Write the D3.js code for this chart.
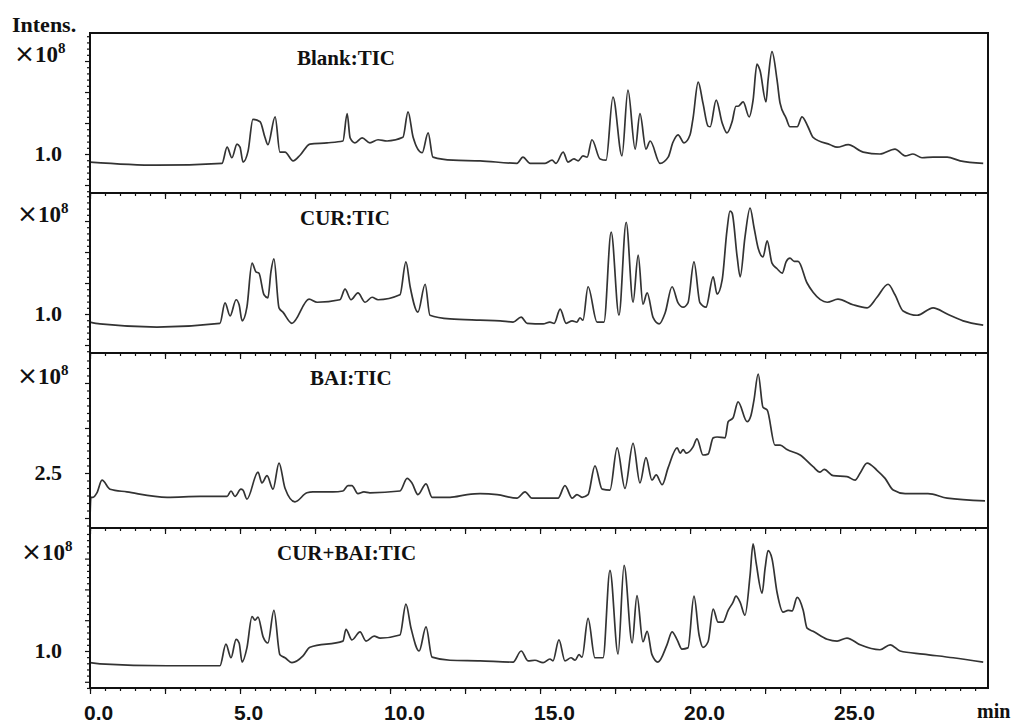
<!DOCTYPE html>
<html><head><meta charset="utf-8">
<script src="https://cdn.jsdelivr.net/npm/d3@7"></script>
<style>body{margin:0;background:#fff}svg{display:block}</style>
</head><body>
<script>
// ---------- data (time in min, intensity in ×10^8) ----------
const blankTIC = [[0,0.87],[2.23,0.82],[4.40,0.85],[4.57,1.11],[4.73,0.94],[4.90,1.16],[5.00,1.11],[5.10,0.87],[5.27,1.05],[5.43,1.56],[5.67,1.52],[5.83,1.27],[5.93,1.15],[6.17,1.60],[6.33,1.03],[6.50,1.03],[6.77,0.89],[7.00,0.98],[7.33,1.16],[7.90,1.18],[8.43,1.21],[8.57,1.65],[8.67,1.26],[8.83,1.18],[9.07,1.26],[9.33,1.18],[9.60,1.23],[9.90,1.21],[10.43,1.27],[10.60,1.68],[10.77,1.27],[11.07,1.02],[11.27,1.34],[11.43,0.95],[12.10,0.90],[13.00,0.89],[14.23,0.85],[14.43,0.95],[14.67,0.85],[15.17,0.85],[15.40,0.90],[15.53,0.85],[15.77,1.03],[15.93,0.87],[16.13,0.92],[16.27,0.89],[16.43,0.97],[16.57,0.95],[16.73,1.23],[17.00,0.92],[17.20,0.90],[17.43,1.92],[17.73,0.97],[17.93,2.03],[18.17,1.08],[18.33,1.65],[18.53,1.08],[18.67,1.21],[19.00,0.85],[19.27,0.95],[19.43,1.19],[19.60,1.31],[19.80,1.18],[20.00,1.31],[20.10,1.58],[20.27,2.16],[20.43,1.82],[20.60,1.45],[20.67,1.44],[20.87,1.87],[21.07,1.50],[21.23,1.34],[21.40,1.52],[21.53,1.77],[21.60,1.77],[21.77,1.84],[21.97,1.60],[22.10,1.87],[22.23,2.45],[22.33,2.35],[22.53,1.84],[22.60,2.19],[22.73,2.65],[22.90,2.19],[23.00,1.82],[23.20,1.58],[23.33,1.44],[23.57,1.44],[23.73,1.60],[23.93,1.44],[24.10,1.27],[24.67,1.15],[24.90,1.11],[25.27,1.15],[25.77,1.03],[26.33,1.00],[26.83,1.08],[27.17,0.97],[27.43,1.00],[27.73,0.94],[28.10,0.95],[28.57,0.95],[29.00,0.89],[29.77,0.85]];

const curTIC = [[0,0.87],[0.33,0.84],[2.23,0.79],[4.33,0.85],[4.50,1.18],[4.67,0.97],[4.87,1.23],[4.97,1.15],[5.07,0.89],[5.23,1.11],[5.40,1.82],[5.53,1.68],[5.63,1.66],[5.80,1.31],[5.93,1.26],[6.03,1.68],[6.13,1.89],[6.30,1.10],[6.43,1.03],[6.73,0.85],[7.30,1.24],[7.57,1.19],[8.33,1.23],[8.50,1.40],[8.70,1.23],[8.93,1.34],[9.17,1.19],[9.40,1.27],[9.60,1.23],[10.33,1.31],[10.53,1.84],[10.67,1.44],[10.93,1.03],[11.17,1.48],[11.33,0.98],[12.00,0.92],[13.00,0.90],[13.67,0.89],[14.10,0.87],[14.37,0.95],[14.57,0.85],[15.10,0.84],[15.33,0.87],[15.47,0.85],[15.67,1.08],[15.87,0.85],[16.07,0.89],[16.23,0.87],[16.33,0.94],[16.43,0.90],[16.60,1.44],[16.90,0.87],[17.13,0.87],[17.37,2.32],[17.63,0.98],[17.87,2.48],[18.10,1.19],[18.27,1.95],[18.43,1.16],[18.57,1.34],[18.77,0.94],[18.97,0.84],[19.17,1.02],[19.40,1.44],[19.60,1.18],[19.77,1.11],[19.93,1.18],[20.13,1.84],[20.33,1.18],[20.53,1.11],[20.77,1.60],[20.90,1.32],[21.07,1.55],[21.23,2.35],[21.33,2.66],[21.40,2.63],[21.57,1.92],[21.67,1.60],[21.83,2.24],[22.00,2.71],[22.13,2.40],[22.27,2.06],[22.43,1.92],[22.57,2.18],[22.73,1.82],[22.90,1.73],[23.07,1.66],[23.20,1.84],[23.33,1.90],[23.47,1.85],[23.60,1.85],[23.90,1.50],[24.10,1.35],[24.57,1.19],[24.93,1.24],[25.43,1.15],[25.90,1.10],[26.23,1.27],[26.60,1.48],[26.83,1.31],[27.10,1.05],[27.57,0.98],[28.10,1.10],[28.57,1.00],[29.10,0.89],[29.77,0.82]];

const baiTIC = [[0,2.00],[0.03,2.23],[0.10,2.23],[0.23,2.28],[0.40,2.42],[0.67,2.32],[1.23,2.29],[2.57,2.23],[3.67,2.24],[4.57,2.24],[4.70,2.30],[4.83,2.24],[5.03,2.32],[5.10,2.31],[5.23,2.21],[5.60,2.51],[5.73,2.39],[5.90,2.47],[6.10,2.32],[6.30,2.61],[6.50,2.33],[6.83,2.18],[7.23,2.28],[7.43,2.29],[8.10,2.29],[8.43,2.30],[8.60,2.36],[8.73,2.36],[8.93,2.27],[9.13,2.29],[9.33,2.28],[10.33,2.30],[10.57,2.44],[10.73,2.39],[10.93,2.26],[11.20,2.38],[11.40,2.23],[12.00,2.23],[12.57,2.26],[13.00,2.27],[13.57,2.26],[14.23,2.22],[14.50,2.29],[14.73,2.22],[15.43,2.22],[15.60,2.22],[15.83,2.36],[16.07,2.22],[16.23,2.26],[16.40,2.23],[16.60,2.26],[16.83,2.58],[17.07,2.32],[17.33,2.31],[17.57,2.78],[17.83,2.33],[18.10,2.83],[18.33,2.39],[18.53,2.67],[18.73,2.42],[18.87,2.48],[19.07,2.37],[19.27,2.56],[19.57,2.78],[19.67,2.72],[19.77,2.76],[19.87,2.72],[20.10,2.79],[20.23,2.88],[20.43,2.70],[20.60,2.71],[20.77,2.89],[20.90,2.90],[21.17,2.89],[21.27,3.07],[21.43,3.11],[21.60,3.29],[21.90,3.07],[22.03,3.14],[22.13,3.31],[22.27,3.60],[22.43,3.23],[22.57,3.20],[22.83,2.81],[23.00,2.81],[23.23,2.76],[23.67,2.70],[24.10,2.57],[24.33,2.51],[24.47,2.54],[24.77,2.47],[25.23,2.46],[25.50,2.42],[25.67,2.50],[25.90,2.61],[26.23,2.53],[26.50,2.44],[26.77,2.31],[27.17,2.27],[27.93,2.27],[28.57,2.22],[29.83,2.19]];

const curBaiTIC = [[0,0.81],[0.33,0.79],[2.57,0.76],[4.33,0.76],[4.53,1.11],[4.70,0.89],[4.87,1.19],[4.97,1.13],[5.07,0.82],[5.23,1.05],[5.40,1.56],[5.50,1.50],[5.60,1.55],[5.77,1.23],[5.93,1.13],[6.13,1.66],[6.33,0.94],[6.50,0.89],[6.73,0.81],[7.10,0.92],[7.33,1.06],[8.43,1.16],[8.53,1.35],[8.73,1.18],[9.00,1.31],[9.20,1.16],[9.47,1.24],[9.67,1.21],[10.33,1.26],[10.53,1.76],[10.70,1.37],[10.97,1.00],[11.20,1.39],[11.40,0.90],[12.00,0.85],[13.00,0.84],[14.10,0.82],[14.37,1.00],[14.60,0.84],[14.83,0.85],[15.10,0.81],[15.33,0.87],[15.43,0.84],[15.63,1.18],[15.83,0.84],[16.03,0.89],[16.17,0.85],[16.30,0.94],[16.40,0.90],[16.60,1.53],[16.83,0.89],[17.10,0.89],[17.33,2.31],[17.60,0.95],[17.80,2.39],[18.07,1.13],[18.23,1.90],[18.43,1.15],[18.57,1.32],[18.73,0.94],[18.93,0.82],[19.23,1.10],[19.40,1.31],[19.57,1.18],[19.73,1.03],[19.93,1.05],[20.13,1.89],[20.30,1.26],[20.43,1.06],[20.60,1.15],[20.77,1.68],[20.93,1.47],[21.10,1.47],[21.27,1.66],[21.43,1.79],[21.53,1.89],[21.67,1.79],[21.83,1.58],[22.00,2.23],[22.10,2.74],[22.20,2.44],[22.40,1.94],[22.50,2.34],[22.60,2.63],[22.73,2.50],[22.90,1.95],[23.10,1.63],[23.27,1.66],[23.40,1.65],[23.57,1.87],[23.77,1.66],[23.90,1.37],[24.10,1.32],[24.57,1.19],[24.90,1.16],[25.23,1.21],[25.67,1.10],[26.33,1.02],[26.67,1.10],[27.00,1.00],[27.77,0.95],[28.77,0.89],[29.77,0.82]];

const panelTitles = ["Blank:TIC", "CUR:TIC", "BAI:TIC", "CUR+BAI:TIC"];
const panelSeries = [blankTIC, curTIC, baiTIC, curBaiTIC];
const yLabelValues = [1.0, 1.0, 2.5, 1.0];
const yLabelTexts = ["1.0", "1.0", "2.5", "1.0"];
const yDomains = [[0.371, 2.952], [0.371, 2.952], [1.889, 3.833], [0.399, 2.997]];
const yMinorDivs = [5, 5, 6, 5];
const xTickValues = [0, 5, 10, 15, 20, 25];
const xTickLabels = ["0.0", "5.0", "10.0", "15.0", "20.0", "25.0"];
const xDomain = [0, 29.93];

// ---------- layout ----------
const W = 1016, H = 723;
const L = 90, R = 988;
const panelTops = [33, 193, 353, 528];
const panelBottoms = [193, 353, 528, 688];
const expX = [14, 17, 17, 21];
const titleX = [297, 300, 310, 277];
const serif = "'Liberation Serif','Times New Roman',serif";
const sans = "'DejaVu Sans','Liberation Sans',Arial,sans-serif";
const ink = "#111";

const svg = d3.select("body").append("svg").attr("width", W).attr("height", H);
const x = d3.scaleLinear().domain(xDomain).range([L, R]);

panelSeries.forEach((data, i) => {
  const top = panelTops[i], bot = panelBottoms[i];
  const y = d3.scaleLinear().domain(yDomains[i]).range([bot, top]);
  const g = svg.append("g");

  // trace
  const line = d3.line().x(d => x(d[0])).y(d => y(d[1])).curve(d3.curveMonotoneX);
  g.append("path").datum(data).attr("d", line)
    .attr("fill", "none").attr("stroke", "#333").attr("stroke-width", 1.7)
    .attr("stroke-linejoin", "round");

  // y ticks
  const [d0, d1] = yDomains[i];
  const minorStep = 0.5 / yMinorDivs[i];
  const minorVals = [], majorVals = [];
  for (let k = Math.ceil((d0 - 1e-9) / minorStep); k * minorStep <= d1 + 1e-9; k++) {
    const v = k * minorStep;
    if (Math.abs(v / 0.5 - Math.round(v / 0.5)) < 1e-6) majorVals.push(v); else minorVals.push(v);
  }
  const yMinor = g.append("g").attr("transform", `translate(${L},0)`)
    .call(d3.axisLeft(y).tickValues(minorVals).tickSize(3).tickFormat(""));
  const yMajor = g.append("g").attr("transform", `translate(${L},0)`)
    .call(d3.axisLeft(y).tickValues(majorVals).tickSize(5).tickFormat(""));
  [yMinor, yMajor].forEach(a => { a.select(".domain").remove(); a.selectAll("line").attr("stroke", ink).attr("stroke-width", 1.2); });

  // x ticks on bottom edge of each panel
  const xMinor = g.append("g").attr("transform", `translate(0,${bot})`)
    .call(d3.axisBottom(x).tickValues(d3.range(0, 29.9, 0.5)).tickSize(3).tickFormat(""));
  const xMajor = g.append("g").attr("transform", `translate(0,${bot})`)
    .call(d3.axisBottom(x).tickValues(d3.range(0, 29.9, 2.5)).tickSize(6).tickFormat(""));
  [xMinor, xMajor].forEach(a => { a.select(".domain").remove(); a.selectAll("line").attr("stroke", ink).attr("stroke-width", 1.2); });

  // frame
  g.append("rect").attr("x", L).attr("y", top).attr("width", R - L).attr("height", bot - top)
    .attr("fill", "none").attr("stroke", ink).attr("stroke-width", 2);

  // y label value
  g.append("text").attr("x", 62).attr("y", y(yLabelValues[i]) + 7)
    .attr("text-anchor", "end").attr("font-family", serif).attr("font-weight", "bold")
    .attr("font-size", 22).attr("fill", ink).text(yLabelTexts[i]);

  // ×10^8 at top major tick
  const topMajor = majorVals[majorVals.length - 1];
  const ex = g.append("text").attr("x", expX[i]).attr("y", y(topMajor) + 1)
    .attr("font-family", serif).attr("font-weight", "bold").attr("font-size", 23).attr("fill", ink);
  ex.append("tspan").attr("font-family", sans).attr("font-weight", "normal").attr("font-size", 25).text("×");
  ex.append("tspan").text("10");
  ex.append("tspan").attr("font-size", 15).attr("dy", -9).text("8");

  // title
  g.append("text").attr("x", titleX[i]).attr("y", top + 32)
    .attr("font-family", serif).attr("font-weight", "bold").attr("font-size", 21)
    .attr("fill", ink).text(panelTitles[i]);

  // bottom x labels
  if (i === panelSeries.length - 1) {
    g.selectAll("text.xl").data(xTickValues).enter().append("text").attr("class", "xl")
      .attr("x", d => x(d) - 6).attr("y", 720)
      .attr("font-family", "'Liberation Sans',Arial,sans-serif").attr("font-weight", "bold").attr("font-size", 21).attr("fill", ink)
      .text((d, k) => xTickLabels[k]);
  }
});

svg.append("text").attr("x", 12).attr("y", 32).attr("font-family", serif).attr("font-weight", "bold")
  .attr("font-size", 22).attr("fill", ink).text("Intens.");
svg.append("text").attr("x", 977).attr("y", 718).attr("font-family", serif).attr("font-weight", "bold")
  .attr("font-size", 20).attr("fill", ink).text("min");
</script>
</body></html>
